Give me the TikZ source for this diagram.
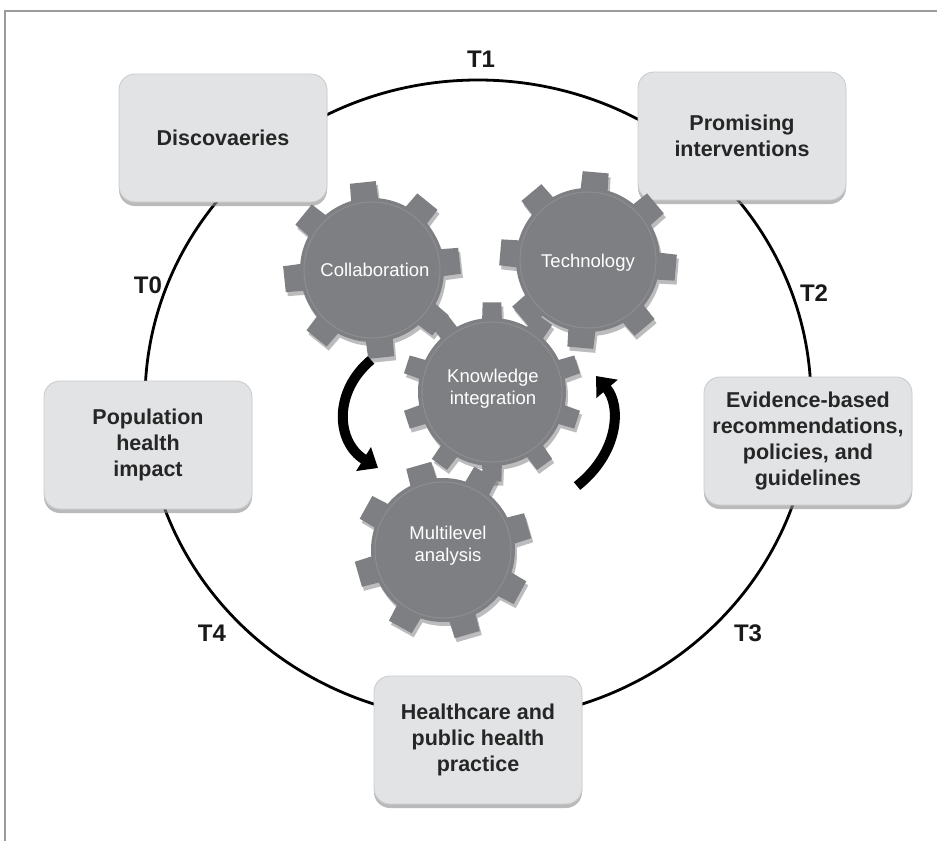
\documentclass[tikz,border=0pt]{standalone}
\usepackage{fontspec}
\setmainfont{Liberation Sans}
\usetikzlibrary{arrows.meta,shadows}
\definecolor{boxfill}{HTML}{E2E3E5}
\definecolor{boxline}{HTML}{C9CACC}
\definecolor{gearfill}{HTML}{7E7F82}
\definecolor{gearshadow}{HTML}{404145}
\definecolor{framecol}{HTML}{9B9B9B}
\newcommand\gearoutline[6]{% #1 teeth, #2 rotation, #3 r1, #4 r2, #5 base half-angle, #6 inner radius of teeth
  (0,0) circle[radius=#3]
  \foreach \k in {1,...,#1}{
    ({#2+\k*360/#1-#5}:#6) -- ({#2+\k*360/#1-#5*0.7}:#4) -- ({#2+\k*360/#1+#5*0.7}:#4) -- ({#2+\k*360/#1+#5}:#6) -- cycle
  }}
\newcommand\drawgear[7]{% #1 center, #2 teeth, #3 rotation, #4 r1, #5 r2, #6 half-angle, #7 inner radius
  \begin{scope}[shift={(#1)}]
    \fill[gearshadow, opacity=0.35, shift={(2,4)}] \gearoutline{#2}{#3}{#4}{#5}{#6}{#7};
    \fill[gearfill] \gearoutline{#2}{#3}{#4}{#5}{#6}{#7};
    \draw[gearfill!88!white, line width=1pt] (0,0) circle[radius=#4-4];
  \end{scope}}
\begin{document}
\begin{tikzpicture}[x=1pt,y=-1pt,
  stage/.style={draw=boxline, line width=0.8pt, fill=boxfill, rounded corners=16pt,
    minimum width=208pt, minimum height=128pt, align=center,
    font=\fontsize{21.5}{26}\selectfont\bfseries, text=black!85,
    drop shadow={shadow xshift=0pt, shadow yshift=-4pt, fill=black!45, opacity=0.6}},
  tlabel/.style={font=\fontsize{24}{28}\selectfont\bfseries, text=black!90},
  gearlabel/.style={font=\fontsize{18.5}{22}\selectfont, text=white, align=center},
  cycle arrow/.style={line width=10pt, -{Triangle[length=17pt,width=27pt]}}
]
\useasboundingbox (0,0) rectangle (937,841);
\fill[white] (0,0) rectangle (937,841);
\draw[framecol, line width=2pt] (5,841) -- (5,11) -- (937,11);

% ring
\draw[line width=2.8pt] (478,400) ellipse [x radius=333, y radius=320];

% stages
\node[stage] (disc) at (223,138) {Discovaeries};
\node[stage] (prom) at (742,136) {Promising\\interventions};
\node[stage] (evid) at (808,441) {Evidence-based\\recommendations,\\policies, and\\guidelines};
\node[stage] (pop) at (148,445) {Population\\health\\impact};
\node[stage] (hc) at (478,740) {Healthcare and\\public health\\practice};

% T labels
\node[tlabel] (t1) at (481,59) {T1};
\node[tlabel] (t0) at (148,285) {T0};
\node[tlabel] (t2) at (814,293) {T2};
\node[tlabel] (t3) at (748,633) {T3};
\node[tlabel] (t4) at (212,633) {T4};

% gears
\drawgear{372,270}{8}{-96}{72}{89}{12}{66}
\drawgear{588,260}{8}{-85}{72}{89}{12}{66}
\drawgear{492,392}{10}{-90}{74}{90}{8.5}{68}
\drawgear{443,550}{8}{-106}{72}{89}{12}{66}

\node[gearlabel] (collab) at (375,270) {Collaboration};
\node[gearlabel] (tech) at (588,263) {Technology};
\node[gearlabel] (know) at (493,389) {Knowledge\\integration};
\node[gearlabel] (multi) at (448,546) {Multilevel\\analysis};

% cycle arrows
\coordinate (la1) at (371,360);
\coordinate (la2) at (378,468);
\draw[cycle arrow] (la1) .. controls (333,392) and (336,442) .. (la2);
\coordinate (ra1) at (577,486);
\coordinate (ra2) at (596,376);
\draw[cycle arrow] (ra1) .. controls (620,452) and (621,405) .. (ra2);
\end{tikzpicture}
\end{document}
